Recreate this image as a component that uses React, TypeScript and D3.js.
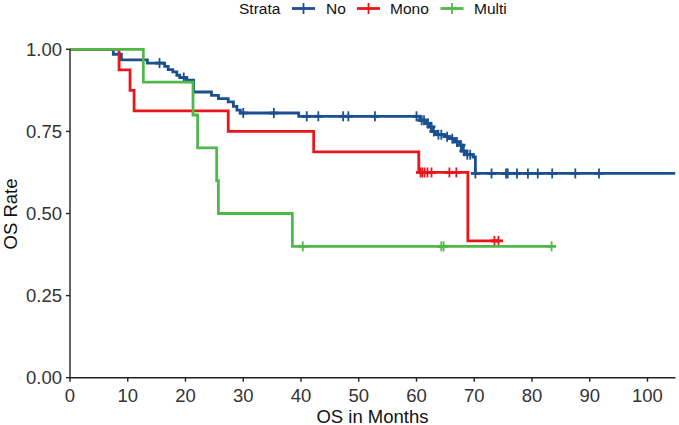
import React from "react";
import * as d3 from "d3";

const strataNames = ["No", "Mono", "Multi"];
const strataColors = ["#1a4f91", "#e8161b", "#50b848"];

// "No" stratum: event times and survival after each step
const noTimes = [7.5, 8.9, 13.4, 16.4, 17.0, 17.8, 18.5, 19.0, 20.1, 21.4, 24.5, 25.7, 27.4, 28.3, 28.9, 29.5, 39.6, 60.6, 61.7, 62.3, 62.7, 63.4, 64.9, 65.7, 66.6, 67.5, 67.9, 68.5, 69.8, 70.2];
const noSurv = [0.985, 0.968, 0.958, 0.948, 0.938, 0.931, 0.921, 0.914, 0.906, 0.87, 0.86, 0.85, 0.84, 0.826, 0.815, 0.806, 0.796, 0.784, 0.774, 0.764, 0.75, 0.74, 0.734, 0.728, 0.718, 0.708, 0.69, 0.679, 0.672, 0.622];
const noCensor = [15.5, 19.7, 30.0, 35.3, 41.0, 43.0, 47.3, 48.2, 52.8, 60.0, 60.9, 61.3, 62.0, 62.5, 63.0, 63.8, 64.3, 65.3, 66.2, 67.0, 67.7, 68.2, 68.8, 69.3, 70.2, 73.0, 75.5, 75.8, 77.4, 79.3, 81.0, 83.5, 87.5, 91.6];
const noEnd = 104.8;

// "Mono" stratum
const monoTimes = [8.5, 10.4, 11.1, 27.4, 42.2, 60.4, 68.9];
const monoSurv = [0.9375, 0.875, 0.8125, 0.75, 0.6875, 0.625, 0.4167];
const monoCensor = [60.7, 61.0, 61.4, 61.9, 62.6, 65.7, 66.9, 73.5, 74.2];
const monoEnd = 74.2;

// "Multi" stratum
const multiTimes = [12.7, 21.3, 22.1, 25.4, 25.7, 38.5];
const multiSurv = [0.9, 0.8, 0.7, 0.6, 0.5, 0.4];
const multiCensor = [40.3, 64.3, 64.7, 83.4];
const multiEnd = 83.4;

const xTicks = [0, 10, 20, 30, 40, 50, 60, 70, 80, 90, 100];
const yTicks = [0, 0.25, 0.5, 0.75, 1.0];
const yTickLabels = ["0.00", "0.25", "0.50", "0.75", "1.00"];

const series = [
  { times: noTimes, surv: noSurv, censor: noCensor, end: noEnd },
  { times: monoTimes, surv: monoSurv, censor: monoCensor, end: monoEnd },
  { times: multiTimes, surv: multiSurv, censor: multiCensor, end: multiEnd },
];

const W = 679;
const H = 425;
const FONT = "'Liberation Sans', Arial, sans-serif";

function survAt(times: number[], surv: number[], t: number) {
  let s = 1;
  for (let i = 0; i < times.length; i++) {
    if (times[i] <= t) s = surv[i];
  }
  return s;
}

export default function App() {
  const x = d3.scaleLinear().domain([0, 104.8]).range([70, 675.2]);
  const y = d3.scaleLinear().domain([0, 1]).range([377.7, 49.3]);
  const line = d3
    .line<[number, number]>()
    .x((d) => x(d[0]))
    .y((d) => y(d[1]))
    .curve(d3.curveStepAfter);

  const arm = 4.5;
  const lw = 2.8;

  const legendItems = [
    { keyX: 292, textX: 326 },
    { keyX: 357, textX: 390 },
    { keyX: 440.5, textX: 474 },
  ];

  return (
    <svg
      width={W}
      height={H}
      style={{ position: "absolute", left: 0, top: 0, background: "#fff" }}
      fontFamily={FONT}
    >
      <rect x={0} y={0} width={W} height={H} fill="#fff" />
      {/* curves */}
      {series.map((s, i) => {
        const pts: [number, number][] = [[0, 1]];
        s.times.forEach((t, j) => pts.push([t, s.surv[j]]));
        pts.push([s.end, s.surv[s.surv.length - 1]]);
        return (
          <g key={i}>
            <path d={line(pts) || ""} fill="none" stroke={strataColors[i]} strokeWidth={lw} />
            {s.censor.map((c, k) => {
              const cx = x(c);
              const cy = y(survAt(s.times, s.surv, c));
              return (
                <g key={k} stroke={strataColors[i]} strokeWidth={1.8}>
                  <line x1={cx} x2={cx} y1={cy - arm - 0.5} y2={cy + arm + 0.5} />
                  <line x1={cx - arm} x2={cx + arm} y1={cy} y2={cy} strokeWidth={lw} />
                </g>
              );
            })}
          </g>
        );
      })}
      {/* axes */}
      <g stroke="#222" strokeWidth={1.4}>
        <line x1={x(0)} x2={x(0)} y1={y(1) - 0.5} y2={y(0)} />
        <line x1={x(0)} x2={675.5} y1={y(0)} y2={y(0)} />
        {yTicks.map((t) => (
          <line key={t} x1={x(0) - 4} x2={x(0)} y1={y(t)} y2={y(t)} />
        ))}
        {xTicks.map((t) => (
          <line key={t} x1={x(t)} x2={x(t)} y1={y(0)} y2={y(0) + 4} />
        ))}
      </g>
      {yTicks.map((t, i) => (
        <text
          key={t}
          x={x(0) - 8}
          y={y(t)}
          textAnchor="end"
          dominantBaseline="central"
          fontSize={18.5}
          fill="#333"
        >
          {yTickLabels[i]}
        </text>
      ))}
      {xTicks.map((t) => (
        <text key={t} x={x(t)} y={401.5} textAnchor="middle" fontSize={18.5} fill="#333">
          {t}
        </text>
      ))}
      <text x={372.5} y={422.5} textAnchor="middle" fontSize={18.5} fill="#111">
        OS in Months
      </text>
      <text
        transform={`translate(16.5, 214) rotate(-90)`}
        textAnchor="middle"
        fontSize={18.5}
        fill="#111"
      >
        OS Rate
      </text>
      {/* legend */}
      <text x={239} y={13.8} fontSize={15.5} fill="#111">
        Strata
      </text>
      {strataNames.map((n, i) => {
        const k = legendItems[i];
        return (
          <g key={n}>
            <line x1={k.keyX} x2={k.keyX + 23} y1={8.5} y2={8.5} stroke={strataColors[i]} strokeWidth={lw} />
            <line x1={k.keyX + 11.5} x2={k.keyX + 11.5} y1={3} y2={14} stroke={strataColors[i]} strokeWidth={1.8} />
            <text x={k.textX} y={13.8} fontSize={15.5} fill="#111">
              {n}
            </text>
          </g>
        );
      })}
    </svg>
  );
}
